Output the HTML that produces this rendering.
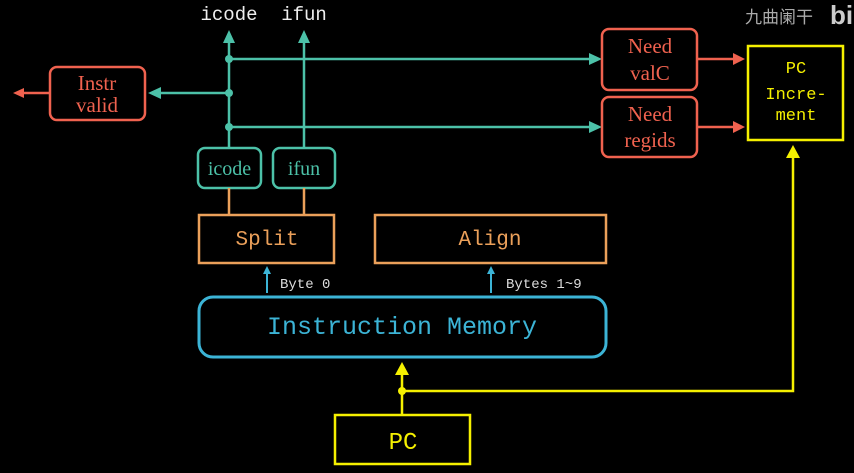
<!DOCTYPE html>
<html><head><meta charset="utf-8"><style>
html,body{margin:0;padding:0;background:#000;width:854px;height:473px;overflow:hidden}
svg{display:block}
.m{font-family:"Liberation Mono",monospace}
.s{font-family:"Liberation Serif",serif}
</style></head><body>
<svg width="854" height="473" viewBox="0 0 854 473" xmlns="http://www.w3.org/2000/svg">
<rect width="854" height="473" fill="#000"/>
<text x="229" y="20" class="m" font-size="19" fill="#eee" text-anchor="middle">icode</text>
<text x="304" y="20" class="m" font-size="19" fill="#eee" text-anchor="middle">ifun</text>
<g stroke="#4cc1a8" stroke-width="2.5" fill="none">
<line x1="229" y1="148" x2="229" y2="40"/>
<line x1="304" y1="148" x2="304" y2="40"/>
<line x1="229" y1="59" x2="592" y2="59"/>
<line x1="229" y1="127" x2="592" y2="127"/>
<line x1="229" y1="93" x2="158" y2="93"/>
<rect x="198" y="148" width="63" height="40" rx="7"/>
<rect x="273" y="148" width="62" height="40" rx="7"/>
</g>
<g fill="#4cc1a8">
<polygon points="229,30 223,43 235,43"/>
<polygon points="304,30 298,43 310,43"/>
<polygon points="602,59 589,53 589,65"/>
<polygon points="602,127 589,121 589,133"/>
<polygon points="148,93 161,87 161,99"/>
<circle cx="229" cy="59" r="4"/><circle cx="229" cy="93" r="4"/><circle cx="229" cy="127" r="4"/>
</g>
<text x="229.5" y="175" class="s" font-size="20" fill="#4cc1a8" text-anchor="middle">icode</text>
<text x="304" y="175" class="s" font-size="20" fill="#4cc1a8" text-anchor="middle">ifun</text>
<g stroke="#f0624f" stroke-width="2.5" fill="none">
<rect x="50" y="67" width="95" height="53" rx="7"/>
<rect x="602" y="29" width="95" height="61" rx="7"/>
<rect x="602" y="97" width="95" height="60" rx="7"/>
<line x1="49" y1="93" x2="22" y2="93"/>
<line x1="697" y1="59" x2="735" y2="59"/>
<line x1="697" y1="127" x2="735" y2="127"/>
</g>
<g fill="#f0624f">
<polygon points="13,93 24,88 24,98"/>
<polygon points="745,59 733,53 733,65"/>
<polygon points="745,127 733,121 733,133"/>
</g>
<g class="s" font-size="21" fill="#f0624f" text-anchor="middle">
<text x="97" y="90">Instr</text><text x="97" y="112">valid</text>
<text x="650" y="53">Need</text><text x="650" y="80">valC</text>
<text x="650" y="121">Need</text><text x="650" y="147">regids</text>
</g>
<g stroke="#eba05a" stroke-width="2.5" fill="none">
<line x1="229" y1="188" x2="229" y2="215"/>
<line x1="304" y1="188" x2="304" y2="215"/>
<rect x="199" y="215" width="135" height="48"/>
<rect x="375" y="215" width="231" height="48"/>
</g>
<text x="267" y="245" class="m" font-size="21" fill="#eba05a" text-anchor="middle">Split</text>
<text x="490" y="245" class="m" font-size="21" fill="#eba05a" text-anchor="middle">Align</text>
<g stroke="#3cb4d6" stroke-width="2" fill="#3cb4d6">
<line x1="267" y1="293" x2="267" y2="272"/>
<line x1="491" y1="293" x2="491" y2="272"/>
<polygon points="267,266 263,274 271,274" stroke="none"/>
<polygon points="491,266 487,274 495,274" stroke="none"/>
</g>
<text x="280" y="288" class="m" font-size="14" fill="#ddd">Byte 0</text>
<text x="506" y="288" class="m" font-size="14" fill="#ddd">Bytes 1~9</text>
<rect x="199" y="297" width="407" height="60" rx="14" stroke="#3cb4d6" stroke-width="3" fill="none"/>
<text x="402" y="334" class="m" font-size="25" fill="#3cb4d6" text-anchor="middle">Instruction Memory</text>
<g stroke="#f5f000" stroke-width="2.5" fill="none">
<line x1="402" y1="415" x2="402" y2="372"/>
<polyline points="402,391 793,391 793,156"/>
<rect x="335" y="415" width="135" height="49"/>
<rect x="748" y="46" width="95" height="94"/>
</g>
<g fill="#f5f000">
<polygon points="402,362 395,375 409,375"/>
<polygon points="793,145 786,158 800,158"/>
<circle cx="402" cy="391" r="4"/>
</g>
<text x="403" y="449" class="m" font-size="24" fill="#f5f000" text-anchor="middle">PC</text>
<g class="m" font-size="17" fill="#f5f000" text-anchor="middle">
<text x="796" y="73">PC</text><text x="796" y="99">Incre-</text><text x="796" y="120">ment</text>
</g>
<text x="745" y="23" font-family="'Noto Sans CJK SC',sans-serif" font-size="17" fill="#aaa">九曲阑干</text>
<text x="830" y="24" font-family="'Liberation Sans',sans-serif" font-weight="bold" font-size="26" fill="#ccc">bi</text>
</svg>
</body></html>
